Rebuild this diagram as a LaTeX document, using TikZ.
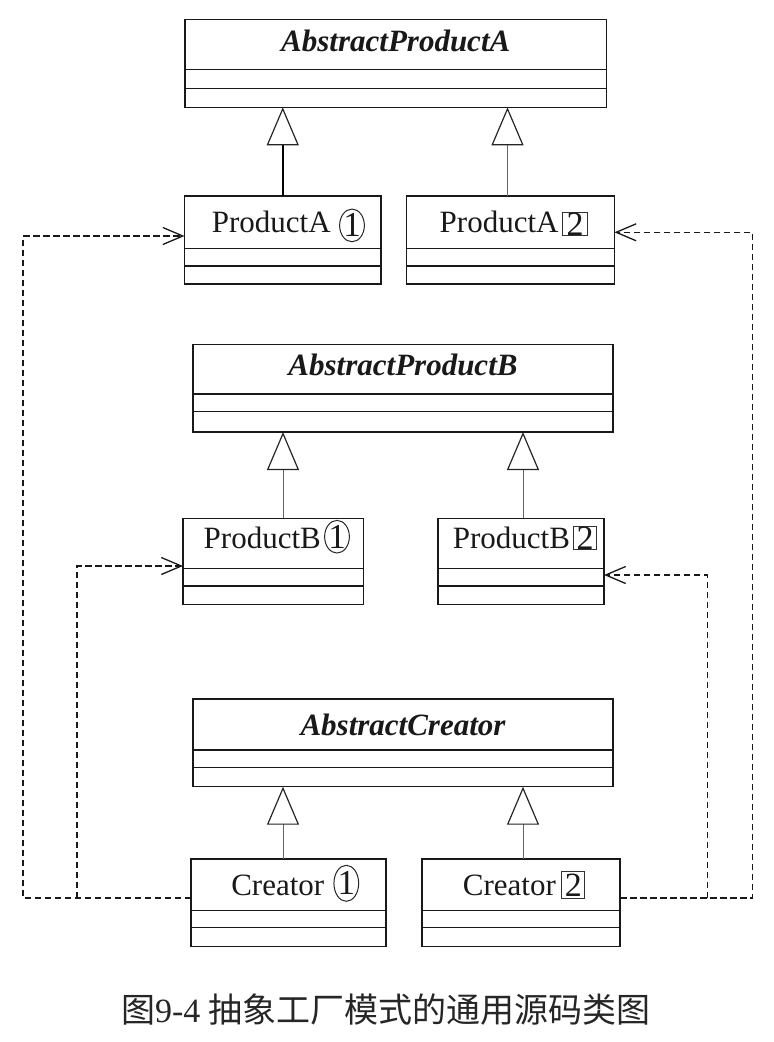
\documentclass[tikz,border=0pt]{standalone}
\usepackage{fontspec}
\setmainfont{Liberation Serif}
\newfontfamily\cjk{Noto Sans CJK SC}
\usetikzlibrary{arrows.meta,calc,shapes.geometric}

\tikzset{
  cls/.style={rectangle, draw=black!90, line width=1.5pt, inner sep=0pt,
    outer sep=0pt, anchor=north west},
  divider/.style={draw=black!90, line width=1.5pt},
  clstitle/.style={font=\fontsize{31pt}{37pt}\selectfont\bfseries\itshape,
    text=black!90, inner sep=0pt, anchor=base},
  clsname/.style={font=\fontsize{31pt}{37pt}\selectfont, text=black!90,
    inner sep=0pt, anchor=base west},
  numcirc/.style={ellipse, draw=black!85, line width=1pt, inner sep=0pt,
    font=\fontsize{35pt}{40pt}\selectfont, text=black!90},
  numbox/.style={rectangle, draw=black!80, line width=1.1pt, inner sep=0pt,
    font=\fontsize{34pt}{40pt}\selectfont, text=black!90},
  gen/.style={-{Triangle[open, length=38pt, width=32pt, line width=1.2pt, color=black!85]},
    line width=1pt, draw=black!60},
  dep/.style={-{Straight Barb[length=20pt, width=17pt, line width=1.3pt]},
    draw=black!90, line width=1.6pt, dash pattern=on 6.5pt off 3.5pt},
  caption/.style={font=\fontsize{34pt}{40pt}\selectfont, text=black!85,
    inner sep=0pt, anchor=base}
}

% class box: name, left, top, right, bottom, first divider, second divider
\newcommand\umlclass[7]{%
  \node[cls, minimum width={(#4)-(#2)}, minimum height={(#5)-(#3)}] (#1) at (#2,#3) {};
  \draw[divider] (#1.west |- 0,#6) -- (#1.east |- 0,#6);
  \draw[divider] (#1.west |- 0,#7) -- (#1.east |- 0,#7);
}

\begin{document}
\begin{tikzpicture}[x=1pt, y=-1pt]
  \useasboundingbox (0,0) rectangle (774,1042);
  \fill[white] (0,0) rectangle (774,1042);

  % product family A
  \umlclass{apa}{185}{19.3}{606.5}{107.3}{69.3}{88.3}
  \node[clstitle] (apat) at (apa.north |- 0,51) {AbstractProductA};
  \umlclass{pa1}{184.5}{196}{381}{284}{248.3}{266}
  \node[clsname] (pa1n) at (211.7,232.7) {ProductA};
  \node[numcirc, minimum width=22pt, minimum height=29pt] (pa1k) at (352,225.4) {1};
  \umlclass{pa2}{406.5}{196}{614.5}{284}{248.3}{266}
  \node[clsname] (pa2n) at (439.5,232.7) {ProductA};
  \node[numbox, minimum width=25pt, minimum height=22pt] (pa2k) at (575.2,224.2) {2};

  % product family B
  \umlclass{apb}{193}{344.3}{613}{432}{394}{411.3}
  \node[clstitle] (apbt) at (apb.north |- 0,375.7) {AbstractProductB};
  \umlclass{pb1}{183}{518.3}{363.3}{604.3}{568.3}{586}
  \node[clsname] (pb1n) at (203.5,548) {ProductB};
  \node[numcirc, minimum width=22pt, minimum height=30pt] (pb1k) at (337,536.7) {1};
  \umlclass{pb2}{438}{518.3}{604}{604.3}{568.3}{586}
  \node[clsname] (pb2n) at (452.7,548) {ProductB};
  \node[numbox, minimum width=23pt, minimum height=23pt] (pb2k) at (585,538) {2};

  % creators
  \umlclass{ac}{193}{699}{613}{786.7}{750}{767.3}
  \node[clstitle] (act) at (ac.north |- 0,735) {AbstractCreator};
  \umlclass{c1}{191}{859}{386}{946.7}{910.7}{927.7}
  \node[clsname] (c1n) at (231.1,895) {Creator};
  \node[numcirc, minimum width=21pt, minimum height=36pt] (c1k) at (346.3,883.3) {1};
  \umlclass{c2}{422}{859}{620}{946.7}{910.7}{927.7}
  \node[clsname] (c2n) at (462.7,895) {Creator};
  \node[numbox, minimum width=23pt, minimum height=27pt] (c2k) at (573.3,885) {2};

  % x positions of the inheritance lines
  \coordinate (xa2) at (507.5,0);
  \coordinate (xl) at (283,0);
  \coordinate (xr) at (523,0);

  % generalisation
  \draw[gen, draw=black, line width=1.6pt] (pa1.north) -- (apa.south -| pa1.north);
  \draw[gen] (pa2.north -| xa2) -- (apa.south -| xa2);
  \draw[gen] (pb1.north -| xl) -- (apb.south -| xl);
  \draw[gen] (pb2.north -| xr) -- (apb.south -| xr);
  \draw[gen] (c1.north -| xl) -- (ac.south -| xl);
  \draw[gen] (c2.north -| xr) -- (ac.south -| xr);

  % dependencies of the creators on the products
  \coordinate (L1) at (23,898);
  \coordinate (L2) at (77,898);
  \coordinate (R2) at (707.3,898);
  \coordinate (R1) at (752.3,898);
  \draw[dep] (c1.west |- L1) -- (L1) |- (pa1.west |- 0,236);
  \draw[dep] (L2) |- (pb1.west |- 0,566);
  \draw[dep] (c2.east |- R1) -- (R1) |- (pa2.east |- 0,232.3);
  \draw[dep] (R2) |- (pb2.east |- 0,575);

  % caption
  \node[caption] (cap) at (386,1022) {{\cjk 图}9-4 {\cjk 抽象工厂模式的通用源码类图}};
\end{tikzpicture}
\end{document}
